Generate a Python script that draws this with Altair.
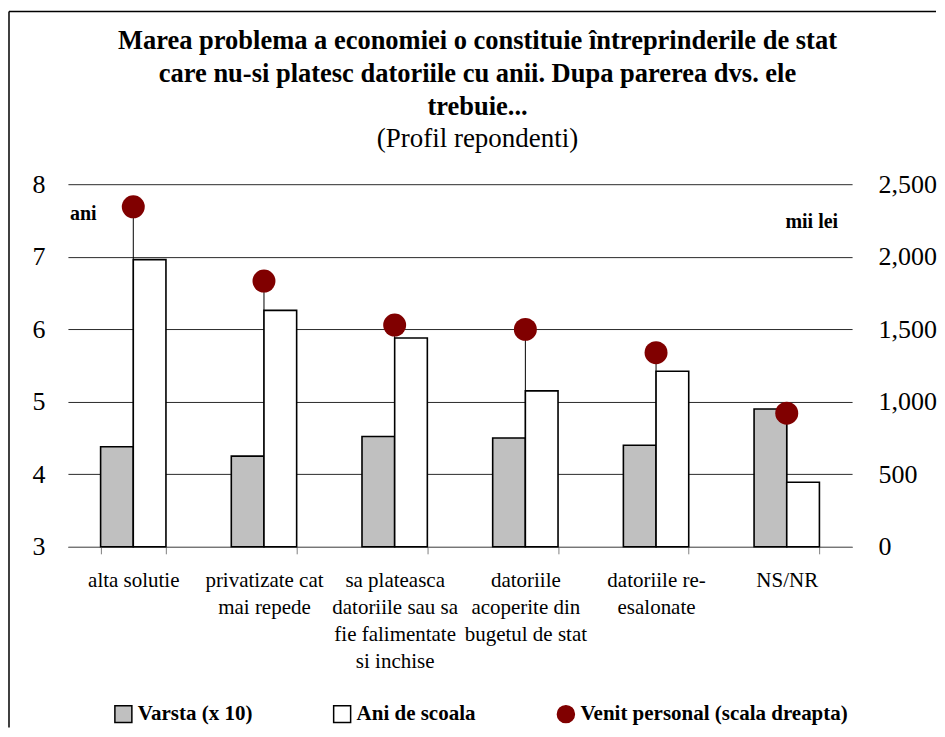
import altair as alt
import pandas as pd

# ---------------- data ----------------
CATEGORIES = [
    "alta solutie",
    "privatizate cat\nmai repede",
    "sa plateasca\ndatoriile sau sa\nfie falimentate\nsi inchise",
    "datoriile\nacoperite din\nbugetul de stat",
    "datoriile re-\nesalonate",
    "NS/NR",
]
SERIES = ["Varsta (x 10)", "Ani de scoala", "Venit personal (scala dreapta)"]
VARSTA = [4.38, 4.25, 4.52, 4.50, 4.40, 4.90]
ANI_SCOALA = [6.96, 6.26, 5.88, 5.15, 5.42, 3.89]
VENIT = [2344, 1832, 1529, 1499, 1338, 921]
LEFT_TICKS = [3, 4, 5, 6, 7, 8]
RIGHT_TICKS = [0, 500, 1000, 1500, 2000, 2500]
TITLE_LINES = [
    "Marea problema a economiei o constituie întreprinderile de stat",
    "care nu-si platesc datoriile cu anii. Dupa parerea dvs. ele",
    "trebuie...",
]
SUBTITLE = "(Profil repondenti)"
LEFT_UNIT = "ani"
RIGHT_UNIT = "mii lei"

FONT = "Liberation Serif"
W, H = 785, 363

bars_df = pd.DataFrame(
    {
        "cat": CATEGORIES * 2,
        "serie": [SERIES[0]] * 6 + [SERIES[1]] * 6,
        "value": VARSTA + ANI_SCOALA,
    }
)
venit_df = pd.DataFrame({"cat": CATEGORIES, "serie": SERIES[2], "venit": VENIT})
one = pd.DataFrame({"k": [0]})

# ---------------- scales / guides ----------------
x = alt.X(
    "cat:N",
    sort=CATEGORIES,
    title=None,
    scale=alt.Scale(paddingInner=0.5, paddingOuter=0.25),
    axis=alt.Axis(
        labelExpr="split(datum.label, '\\n')",
        labelAngle=0,
        tickBand="extent",
        domainColor="#808080",
        tickColor="#808080",
        tickSize=7,
        labelFont=FONT,
        labelFontSize=21,
        labelLineHeight=27,
        labelPadding=16,
        labelColor="black",
        labelLimit=400,
        labelOverlap=False,
        grid=False,
    ),
)

fill_scale = alt.Scale(domain=SERIES, range=["#c0c0c0", "#ffffff", "#800000"])
stroke_scale = alt.Scale(domain=SERIES, range=["#000000", "#000000", "#800000"])
shape_scale = alt.Scale(domain=SERIES, range=["square", "square", "circle"])

legend = alt.Legend(
    title=None,
    orient="none",
    legendX=45,
    legendY=520,
    direction="horizontal",
    columns=3,
    columnPadding=78,
    labelFont=FONT,
    labelFontSize=21,
    labelFontWeight="bold",
    labelColor="black",
    symbolSize=289,
    symbolStrokeWidth=1.5,
    labelOffset=4,
    labelLimit=400,
)

right_scale = alt.Scale(domain=[0, 2500], nice=False, zero=True)

# ---------------- layers ----------------
drops = alt.Chart(venit_df).mark_rule(color="black", strokeWidth=1).encode(
    x=x,
    y=alt.Y("venit:Q", scale=right_scale, axis=None),
    y2=alt.datum(0),
)

bars = alt.Chart(bars_df).mark_bar(strokeWidth=1.6).encode(
    x=x,
    xOffset=alt.XOffset(
        "serie:N",
        sort=SERIES[:2],
        scale=alt.Scale(domain=SERIES[:2], paddingInner=0, paddingOuter=0),
    ),
    y=alt.Y(
        "value:Q",
        title=None,
        scale=alt.Scale(domain=[3, 8], zero=False, nice=False),
        axis=alt.Axis(
            orient="left",
            values=LEFT_TICKS,
            grid=True,
            gridColor="#2a2a2a",
            gridWidth=1,
            domain=False,
            ticks=False,
            labelFont=FONT,
            labelFontSize=26,
            labelPadding=23,
            labelColor="black",
        ),
    ),
    y2=alt.datum(3),
    fill=alt.Fill("serie:N", scale=fill_scale, legend=legend),
    stroke=alt.Stroke("serie:N", scale=stroke_scale, legend=legend),
)

points = alt.Chart(venit_df).mark_point(filled=True, opacity=1, size=529, strokeWidth=0).encode(
    x=x,
    y=alt.Y(
        "venit:Q",
        title=None,
        scale=right_scale,
        axis=alt.Axis(
            orient="right",
            values=RIGHT_TICKS,
            format=",d",
            grid=False,
            domain=False,
            ticks=False,
            labelFont=FONT,
            labelFontSize=26,
            labelPadding=26,
            labelColor="black",
            labelAlign="left",
        ),
    ),
    fill=alt.Fill("serie:N", scale=fill_scale, legend=legend),
    stroke=alt.Stroke("serie:N", scale=stroke_scale, legend=legend),
    shape=alt.Shape("serie:N", scale=shape_scale, legend=legend),
)

title_txt = alt.Chart(one).mark_text(
    text=TITLE_LINES, lineHeight=33, font=FONT, fontSize=26.5, fontWeight="bold",
    align="center", baseline="alphabetic", color="black",
).encode(x=alt.value(410), y=alt.value(-135))

subtitle_txt = alt.Chart(one).mark_text(
    text=SUBTITLE, font=FONT, fontSize=27, align="center", baseline="alphabetic", color="black",
).encode(x=alt.value(410), y=alt.value(-37))

left_unit = alt.Chart(one).mark_text(
    text=LEFT_UNIT, font=FONT, fontSize=20, fontWeight="bold", align="left",
    baseline="alphabetic", color="black",
).encode(x=alt.value(2), y=alt.value(36))

right_unit = alt.Chart(one).mark_text(
    text=RIGHT_UNIT, font=FONT, fontSize=20, fontWeight="bold", align="right",
    baseline="alphabetic", color="black",
).encode(x=alt.value(771), y=alt.value(44))

border_top = alt.Chart(one).mark_rule(color="black", strokeWidth=1.5).encode(
    x=alt.value(-59), x2=alt.value(869), y=alt.value(-173)
)
border_left = alt.Chart(one).mark_rule(color="black", strokeWidth=1.5).encode(
    x=alt.value(-59), y=alt.value(-173), y2=alt.value(544)
)

chart = (
    alt.layer(drops, bars, points, title_txt, subtitle_txt, left_unit, right_unit, border_top, border_left)
    .resolve_scale(y="independent")
    .properties(width=W, height=H, padding={"left": 0, "top": 2, "right": 0, "bottom": 0})
    .configure_view(stroke=None)
)

chart.save("out.html", embed_options={"renderer": "svg", "actions": False})
